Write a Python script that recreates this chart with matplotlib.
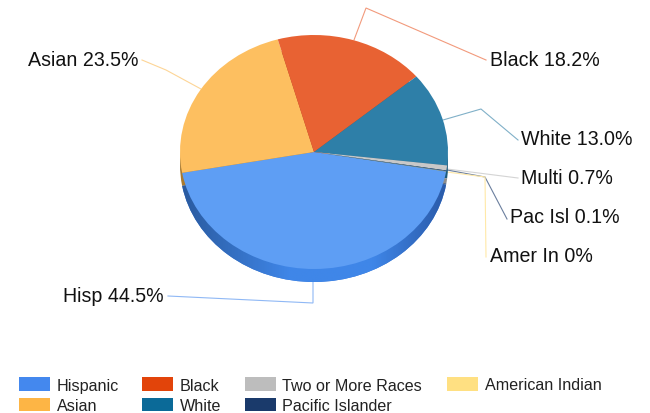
import numpy as np
import matplotlib
matplotlib.use("Agg")
import matplotlib.pyplot as plt
from matplotlib.colors import LinearSegmentedColormap
from matplotlib.patches import Patch

plt.rcParams["font.family"] = ["Liberation Sans", "DejaVu Sans"]

# data, in clockwise drawing order
shares = [44.5, 23.5, 18.2, 13.0, 0.7, 0.1, 0.04]
slice_labels = ["Hisp 44.5%", "Asian 23.5%", "Black 18.2%", "White 13.0%",
                "Multi 0.7%", "Pac Isl 0.1%", "Amer In 0%"]
legend_names = ["Hispanic", "Asian", "Black", "White",
                "Two or More Races", "Pacific Islander", "American Indian"]

top_colors = ["#5e9ef4", "#fdbf60", "#e86233", "#2e7fa8", "#c8c8c8", "#34527f", "#ffe48f"]
side_colors = ["#3a78d8", "#a87a30", "#a84520", "#1d5a7c", "#8c8c8c", "#1a3a6b", "#c8a850"]
legend_colors = ["#4488ee", "#fdb545", "#e2440a", "#0b6a98", "#bdbdbd", "#1a3a6b", "#ffe082"]
line_colors = ["#8fb8f5", "#fdd596", "#f29a7c", "#80b0c8", "#d4d4d4", "#6b7f9e", "#ffe9a8"]

# pie geometry in picture pixels
cx, cy, rx, ry, depth = 314, 153, 134, 117, 13
start = -9.6


def ux(px):
    return (np.asarray(px) - cx) / rx


def uy(py):
    return (cy - np.asarray(py)) / ry


fig = plt.figure(figsize=(6.5, 4.14), dpi=100)
ax = fig.add_axes([0, 0, 1, 1])

# side wall: same pie, shifted down
side, _ = ax.pie(shares, colors=side_colors, startangle=start, counterclock=False,
                 center=(0, -depth / ry), radius=1, wedgeprops={"zorder": 1, "linewidth": 0})
top, _ = ax.pie(shares, colors=top_colors, startangle=start, counterclock=False,
                center=(0, 0), radius=1, wedgeprops={"zorder": 3, "linewidth": 0})

# shading along the Hispanic wall
wall_cmap = LinearSegmentedColormap.from_list("wall", ["#2a5a9e", "#3f86e8", "#3f86e8", "#2a5aa8"])
grad = np.interp(np.linspace(0, 1, 256), [0, 0.55, 0.62, 1], [0, 0.45, 0.55, 1])[None, :]
img = ax.imshow(grad, cmap=wall_cmap, extent=(-1, 1, -1.2, 0.1), aspect="auto", zorder=2)
img.set_clip_path(side[0])

ax.set_aspect("auto")
ax.set_xlim(ux(0), ux(650))
ax.set_ylim(uy(414), uy(0))
ax.axis("off")

# leader lines, picture pixels
leaders = [
    ([168, 313, 313], [297, 304, 283]),
    ([142, 166, 201], [61, 71, 90]),
    ([354, 366, 486], [41, 9, 61]),
    ([443, 481, 518], [121, 110, 141]),
    ([447, 518], [170, 179]),
    ([447, 485, 507], [171, 178, 220]),
    ([447, 485, 486], [173, 178, 258]),
]
# label anchor: x, y, horizontal alignment
anchors = [(164, 297, "right"), (138, 61, "right"), (490, 61, "left"), (521, 140, "left"),
           (521, 179, "left"), (510, 218, "left"), (490, 257, "left")]

for (xs, ys), c in zip(leaders, line_colors):
    ax.plot(ux(xs), uy(ys), color=c, lw=0.8, zorder=0.5, solid_joinstyle="miter")
for label, (x, y, ha) in zip(slice_labels, anchors):
    ax.text(ux(x), uy(y), label, ha=ha, va="center", fontsize=14.1, color="#111111", zorder=5)

handles = [Patch(facecolor=c, edgecolor="none") for c in legend_colors]
legend_style = dict(frameon=False, fontsize=11.6, loc="lower left", borderaxespad=0, borderpad=0,
                    handlelength=1.92, handleheight=0.95, handletextpad=0.42,
                    columnspacing=1.45, labelspacing=0.3, labelcolor="#222222")
# last column sits further right than the auto spacing gives
fig.legend(handles[:6], legend_names[:6], ncol=3,
           bbox_to_anchor=(19 / 650, 0), **legend_style)
fig.legend(handles[6:], legend_names[6:], ncol=1,
           bbox_to_anchor=(447 / 650, 20.7 / 414), **legend_style)

fig.savefig("out.png", dpi=100)
